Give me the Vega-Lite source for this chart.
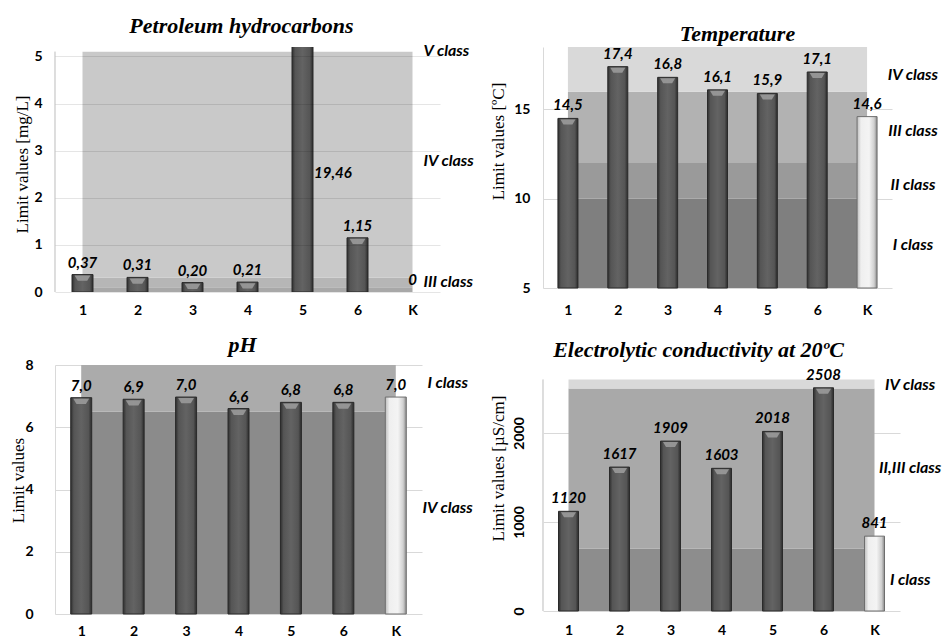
{
  "$schema": "https://vega.github.io/schema/vega-lite/v6.json",
  "padding": {"left": 9, "top": 14, "right": 0, "bottom": 0},
  "background": "white",
  "columns": 2,
  "spacing": {"row": 73, "column": 103},
  "bounds": "flush",
  "align": "each",
  "resolve": {"scale": {"color": "independent"}},
  "config": {
    "view": {"stroke": null},
    "axis": {"labelFont": "Lato", "labelFontWeight": "bold", "labelFontSize": 14, "labelColor": "#000", "titleFont": "Liberation Serif", "titleFontWeight": "normal", "titleFontSize": 17, "titleColor": "#000", "gridColor": "#d9d9d9", "domainColor": "#d9d9d9", "ticks": false, "tickSize": 0},
    "title": {"font": "Liberation Serif", "fontSize": 22, "fontWeight": "bold", "fontStyle": "italic", "color": "#000", "anchor": "middle", "baseline": "alphabetic"}
  },
  "datasets": {
    "p1": [
      {"site": "1", "pos": 1, "value": 0.37, "label": "0,37"},
      {"site": "2", "pos": 2, "value": 0.31, "label": "0,31"},
      {"site": "3", "pos": 3, "value": 0.20, "label": "0,20"},
      {"site": "4", "pos": 4, "value": 0.21, "label": "0,21"},
      {"site": "5", "pos": 5, "value": 19.46, "label": "19,46"},
      {"site": "6", "pos": 6, "value": 1.15, "label": "1,15"},
      {"site": "K", "pos": 7, "value": 0, "label": "0"}
    ],
    "p1bands": [
      {"cls": "II", "lo": 0, "hi": 0.1},
      {"cls": "III", "lo": 0.1, "hi": 0.3},
      {"cls": "IV", "lo": 0.3, "hi": 5.1}
    ],
    "p1classes": [
      {"cls": "V class", "y": 5.12},
      {"cls": "IV class", "y": 2.78},
      {"cls": "III class", "y": 0.21}
    ],
    "p2": [
      {"site": "1", "pos": 1, "value": 14.5, "label": "14,5"},
      {"site": "2", "pos": 2, "value": 17.4, "label": "17,4"},
      {"site": "3", "pos": 3, "value": 16.8, "label": "16,8"},
      {"site": "4", "pos": 4, "value": 16.1, "label": "16,1"},
      {"site": "5", "pos": 5, "value": 15.9, "label": "15,9"},
      {"site": "6", "pos": 6, "value": 17.1, "label": "17,1"},
      {"site": "K", "pos": 7, "value": 14.6, "label": "14,6"}
    ],
    "p2bands": [
      {"cls": "I", "lo": 5, "hi": 10},
      {"cls": "II", "lo": 10, "hi": 12},
      {"cls": "III", "lo": 12, "hi": 16},
      {"cls": "IV", "lo": 16, "hi": 18.5}
    ],
    "p2classes": [
      {"cls": "IV class", "y": 16.93},
      {"cls": "III class", "y": 13.8},
      {"cls": "II class", "y": 10.77},
      {"cls": "I class", "y": 7.41}
    ],
    "p3": [
      {"site": "1", "pos": 1, "value": 6.95, "label": "7,0"},
      {"site": "2", "pos": 2, "value": 6.9, "label": "6,9"},
      {"site": "3", "pos": 3, "value": 6.97, "label": "7,0"},
      {"site": "4", "pos": 4, "value": 6.6, "label": "6,6"},
      {"site": "5", "pos": 5, "value": 6.8, "label": "6,8"},
      {"site": "6", "pos": 6, "value": 6.8, "label": "6,8"},
      {"site": "K", "pos": 7, "value": 6.97, "label": "7,0"}
    ],
    "p3bands": [
      {"cls": "IV", "lo": 0, "hi": 6.5},
      {"cls": "I", "lo": 6.5, "hi": 8}
    ],
    "p3classes": [
      {"cls": "I class", "y": 7.43},
      {"cls": "IV class", "y": 3.41}
    ],
    "p4": [
      {"site": "1", "pos": 1, "value": 1120, "label": "1120"},
      {"site": "2", "pos": 2, "value": 1617, "label": "1617"},
      {"site": "3", "pos": 3, "value": 1909, "label": "1909"},
      {"site": "4", "pos": 4, "value": 1603, "label": "1603"},
      {"site": "5", "pos": 5, "value": 2018, "label": "2018"},
      {"site": "6", "pos": 6, "value": 2508, "label": "2508"},
      {"site": "K", "pos": 7, "value": 841, "label": "841"}
    ],
    "p4bands": [
      {"cls": "I", "lo": 0, "hi": 700},
      {"cls": "II,III", "lo": 700, "hi": 2500},
      {"cls": "IV", "lo": 2500, "hi": 2600}
    ],
    "p4classes": [
      {"cls": "IV class", "y": 2539},
      {"cls": "II,III class", "y": 1607},
      {"cls": "I class", "y": 348}
    ]
  },
  "concat": [
    {
      "width": 385, "height": 245,
      "title": {"text": "Petroleum hydrocarbons", "dx": -6, "offset": 5},
      "layer": [
        {
          "data": {"name": "p1bands"},
          "mark": {"type": "rect"},
          "encoding": {
            "x": {"datum": 1, "type": "quantitative", "scale": {"domain": [0.5, 7.5], "nice": false, "zero": false, "padding": 0},
                  "axis": {"values": [1, 2, 3, 4, 5, 6, 7], "format": "d", "labelExpr": "datum.value == 7 ? 'K' : datum.label", "title": null, "grid": false, "domain": false, "labelPadding": 11}},
            "x2": {"datum": 7},
            "y": {"field": "lo", "type": "quantitative", "scale": {"domain": [0, 5.2], "nice": false, "padding": 0},
                  "axis": {"title": "Limit values [mg/L]", "values": [0, 1, 2, 3, 4, 5], "format": "d", "grid": true, "domain": false, "zindex": 1, "gridColor": "#000", "gridOpacity": 0.1, "labelPadding": 13, "titleX": -33, "titleY": 117, "titleBaseline": "middle", "titleAngle": 270}},
            "y2": {"field": "hi"},
            "color": {"field": "cls", "type": "nominal", "scale": {"domain": ["II", "III", "IV"], "range": ["#a8a8a8", "#b6b6b6", "#c9c9c9"]}, "legend": null}
          }
        },
        {
          "data": {"name": "p1bands"},
          "mark": {"type": "rule", "color": "#d9d9d9"},
          "encoding": {"x": {"datum": 0.5, "type": "quantitative"}, "y": {"datum": 0, "type": "quantitative"}, "y2": {"datum": 5.1}}
        },
        {
          "data": {"name": "p1"},
          "transform": [{"filter": "datum.site != 'K'"}],
          "mark": {"type": "bar", "size": 21, "clip": true, "stroke": "#2a2a2a", "strokeWidth": 1,
                   "fill": {"gradient": "linear", "x1": 0, "x2": 1, "y1": 0, "y2": 0, "stops": [{"offset": 0, "color": "#2f2f2f"}, {"offset": 0.15, "color": "#555555"}, {"offset": 0.5, "color": "#636363"}, {"offset": 0.85, "color": "#555555"}, {"offset": 1, "color": "#2a2a2a"}]}},
          "encoding": {"x": {"field": "pos", "type": "quantitative"}, "y": {"field": "value", "type": "quantitative"}}
        },
        {
          "data": {"name": "p1"},
          "transform": [{"filter": "datum.value <= 5.2 && datum.value > 0"}],
          "mark": {"type": "point", "shape": "M-0.75,0.1L0.75,0.1L0.45,0.6L-0.45,0.6Z", "filled": true, "fill": "#9a9a9a", "opacity": 0.9, "size": 441, "strokeWidth": 0},
          "encoding": {"x": {"field": "pos", "type": "quantitative"}, "y": {"field": "value", "type": "quantitative"}}
        },
        {
          "data": {"name": "p1"},
          "transform": [{"filter": "datum.value <= 5.2"}],
          "mark": {"type": "text", "font": "Lato", "fontWeight": "bold", "fontStyle": "italic", "fontSize": 15, "dy": -7, "baseline": "alphabetic", "color": "#000"},
          "encoding": {"x": {"field": "pos", "type": "quantitative"}, "y": {"field": "value", "type": "quantitative"}, "text": {"field": "label"}}
        },
        {
          "data": {"name": "p1"},
          "transform": [{"filter": "datum.site == '5'"}],
          "mark": {"type": "text", "font": "Lato", "fontWeight": "bold", "fontStyle": "italic", "fontSize": 15, "align": "left", "baseline": "middle", "color": "#000"},
          "encoding": {"x": {"datum": 5.21, "type": "quantitative"}, "y": {"datum": 2.53, "type": "quantitative"}, "text": {"field": "label"}}
        },
        {
          "data": {"name": "p1classes"},
          "mark": {"type": "text", "font": "Lato", "fontWeight": "bold", "fontStyle": "italic", "fontSize": 16, "align": "left", "baseline": "middle", "clip": false, "color": "#000"},
          "encoding": {"x": {"datum": 7.2, "type": "quantitative"}, "y": {"field": "y", "type": "quantitative"}, "text": {"field": "cls"}}
        }
      ]
    },
    {
      "width": 349, "height": 241,
      "title": {"text": "Temperature", "dx": 20, "offset": 1},
      "layer": [
        {
          "data": {"name": "p2bands"},
          "mark": {"type": "rect"},
          "encoding": {
            "x": {"datum": 1, "type": "quantitative", "scale": {"domain": [0.5, 7.5], "nice": false, "zero": false, "padding": 0},
                  "axis": {"values": [1, 2, 3, 4, 5, 6, 7], "format": "d", "labelExpr": "datum.value == 7 ? 'K' : datum.label", "title": null, "grid": false, "domain": false, "labelPadding": 15}},
            "x2": {"datum": 7},
            "y": {"field": "lo", "type": "quantitative", "scale": {"domain": [5, 18.5], "nice": false, "zero": false, "padding": 0},
                  "axis": {"title": "Limit values [ºC]", "values": [5, 10, 15], "format": "d", "grid": true, "domain": true, "labelPadding": 13, "titleX": -45, "titleY": 94, "titleBaseline": "middle", "titleAngle": 270}},
            "y2": {"field": "hi"},
            "color": {"field": "cls", "type": "nominal", "scale": {"domain": ["I", "II", "III", "IV"], "range": ["#7f7f7f", "#9a9a9a", "#b2b2b2", "#d9d9d9"]}, "legend": null}
          }
        },
        {
          "data": {"name": "p2"},
          "transform": [{"filter": "datum.site != 'K'"}],
          "mark": {"type": "bar", "size": 20, "stroke": "#2a2a2a", "strokeWidth": 1,
                   "fill": {"gradient": "linear", "x1": 0, "x2": 1, "y1": 0, "y2": 0, "stops": [{"offset": 0, "color": "#2f2f2f"}, {"offset": 0.15, "color": "#555555"}, {"offset": 0.5, "color": "#636363"}, {"offset": 0.85, "color": "#555555"}, {"offset": 1, "color": "#2a2a2a"}]}},
          "encoding": {"x": {"field": "pos", "type": "quantitative"}, "y": {"field": "value", "type": "quantitative"}, "y2": {"datum": 5}}
        },
        {
          "data": {"name": "p2"},
          "transform": [{"filter": "datum.site == 'K'"}],
          "mark": {"type": "bar", "size": 20, "stroke": "#6e6e6e", "strokeWidth": 1,
                   "fill": {"gradient": "linear", "x1": 0, "x2": 1, "y1": 0, "y2": 0, "stops": [{"offset": 0, "color": "#bdbdbd"}, {"offset": 0.2, "color": "#efefef"}, {"offset": 0.6, "color": "#f4f4f4"}, {"offset": 0.85, "color": "#d0d0d0"}, {"offset": 1, "color": "#8a8a8a"}]}},
          "encoding": {"x": {"field": "pos", "type": "quantitative"}, "y": {"field": "value", "type": "quantitative"}, "y2": {"datum": 5}}
        },
        {
          "data": {"name": "p2"},
          "transform": [{"filter": "datum.site != 'K'"}],
          "mark": {"type": "point", "shape": "M-0.75,0.1L0.75,0.1L0.45,0.6L-0.45,0.6Z", "filled": true, "fill": "#9a9a9a", "opacity": 0.9, "size": 400, "strokeWidth": 0},
          "encoding": {"x": {"field": "pos", "type": "quantitative"}, "y": {"field": "value", "type": "quantitative"}}
        },
        {
          "data": {"name": "p2"},
          "mark": {"type": "text", "font": "Lato", "fontWeight": "bold", "fontStyle": "italic", "fontSize": 15, "dy": -8, "baseline": "alphabetic", "color": "#000"},
          "encoding": {"x": {"field": "pos", "type": "quantitative"}, "y": {"field": "value", "type": "quantitative"}, "text": {"field": "label"}}
        },
        {
          "data": {"name": "p2classes"},
          "mark": {"type": "text", "font": "Lato", "fontWeight": "bold", "fontStyle": "italic", "fontSize": 16, "align": "center", "baseline": "middle", "clip": false, "color": "#000"},
          "encoding": {"x": {"datum": 7.92, "type": "quantitative"}, "y": {"field": "y", "type": "quantitative"}, "text": {"field": "cls"}}
        }
      ]
    },
    {
      "width": 367, "height": 249,
      "title": {"text": "pH", "dx": 4, "offset": 1},
      "layer": [
        {
          "data": {"name": "p3bands"},
          "mark": {"type": "rect"},
          "encoding": {
            "x": {"datum": 1, "type": "quantitative", "scale": {"domain": [0.5, 7.5], "nice": false, "zero": false, "padding": 0},
                  "axis": {"values": [1, 2, 3, 4, 5, 6, 7], "format": "d", "labelExpr": "datum.value == 7 ? 'K' : datum.label", "title": null, "grid": false, "domain": false, "labelPadding": 10}},
            "x2": {"datum": 7},
            "y": {"field": "lo", "type": "quantitative", "scale": {"domain": [0, 8], "nice": false, "padding": 0},
                  "axis": {"title": "Limit values", "values": [0, 2, 4, 6, 8], "format": "d", "grid": true, "domain": true, "labelPadding": 22, "titleX": -37, "titleY": 115, "titleBaseline": "middle", "titleAngle": 270}},
            "y2": {"field": "hi"},
            "color": {"field": "cls", "type": "nominal", "scale": {"domain": ["IV", "I"], "range": ["#8b8b8b", "#ababab"]}, "legend": null}
          }
        },
        {
          "data": {"name": "p3"},
          "transform": [{"filter": "datum.site != 'K'"}],
          "mark": {"type": "bar", "size": 21, "stroke": "#2a2a2a", "strokeWidth": 1,
                   "fill": {"gradient": "linear", "x1": 0, "x2": 1, "y1": 0, "y2": 0, "stops": [{"offset": 0, "color": "#2f2f2f"}, {"offset": 0.15, "color": "#555555"}, {"offset": 0.5, "color": "#636363"}, {"offset": 0.85, "color": "#555555"}, {"offset": 1, "color": "#2a2a2a"}]}},
          "encoding": {"x": {"field": "pos", "type": "quantitative"}, "y": {"field": "value", "type": "quantitative"}}
        },
        {
          "data": {"name": "p3"},
          "transform": [{"filter": "datum.site == 'K'"}],
          "mark": {"type": "bar", "size": 21, "stroke": "#6e6e6e", "strokeWidth": 1,
                   "fill": {"gradient": "linear", "x1": 0, "x2": 1, "y1": 0, "y2": 0, "stops": [{"offset": 0, "color": "#bdbdbd"}, {"offset": 0.2, "color": "#efefef"}, {"offset": 0.6, "color": "#f4f4f4"}, {"offset": 0.85, "color": "#d0d0d0"}, {"offset": 1, "color": "#8a8a8a"}]}},
          "encoding": {"x": {"field": "pos", "type": "quantitative"}, "y": {"field": "value", "type": "quantitative"}}
        },
        {
          "data": {"name": "p3"},
          "transform": [{"filter": "datum.site != 'K'"}],
          "mark": {"type": "point", "shape": "M-0.75,0.1L0.75,0.1L0.45,0.6L-0.45,0.6Z", "filled": true, "fill": "#9a9a9a", "opacity": 0.9, "size": 441, "strokeWidth": 0},
          "encoding": {"x": {"field": "pos", "type": "quantitative"}, "y": {"field": "value", "type": "quantitative"}}
        },
        {
          "data": {"name": "p3"},
          "mark": {"type": "text", "font": "Lato", "fontWeight": "bold", "fontStyle": "italic", "fontSize": 15, "dy": -7, "baseline": "alphabetic", "color": "#000"},
          "encoding": {"x": {"field": "pos", "type": "quantitative"}, "y": {"field": "value", "type": "quantitative"}, "text": {"field": "label"}}
        },
        {
          "data": {"name": "p3classes"},
          "mark": {"type": "text", "font": "Lato", "fontWeight": "bold", "fontStyle": "italic", "fontSize": 16, "align": "center", "baseline": "middle", "clip": false, "color": "#000"},
          "encoding": {"x": {"datum": 7.99, "type": "quantitative"}, "y": {"field": "y", "type": "quantitative"}, "text": {"field": "cls"}}
        }
      ]
    },
    {
      "width": 357, "height": 246,
      "title": {"text": "Electrolytic conductivity at 20ºC", "dx": -23, "offset": 3},
      "layer": [
        {
          "data": {"name": "p4bands"},
          "mark": {"type": "rect"},
          "encoding": {
            "x": {"datum": 1, "type": "quantitative", "scale": {"domain": [0.5, 7.5], "nice": false, "zero": false, "padding": 0},
                  "axis": {"values": [1, 2, 3, 4, 5, 6, 7], "format": "d", "labelExpr": "datum.value == 7 ? 'K' : datum.label", "title": null, "grid": false, "domain": false, "labelPadding": 12}},
            "x2": {"datum": 7},
            "y": {"field": "lo", "type": "quantitative", "scale": {"domain": [0, 2764], "nice": false, "padding": 0},
                  "axis": {"title": "Limit values [µS/cm]", "values": [0, 1000, 2000], "format": "d", "grid": true, "domain": false, "labelAngle": 270, "labelAlign": "center", "labelBaseline": "bottom", "labelPadding": 17, "titleX": -45, "titleY": 103, "titleBaseline": "middle", "titleAngle": 270}},
            "y2": {"field": "hi"},
            "color": {"field": "cls", "type": "nominal", "scale": {"domain": ["I", "II,III", "IV"], "range": ["#8d8d8d", "#a9a9a9", "#d9d9d9"]}, "legend": null}
          }
        },
        {
          "data": {"name": "p4bands"},
          "mark": {"type": "rule", "color": "#d9d9d9"},
          "encoding": {"x": {"datum": 0.5, "type": "quantitative"}, "y": {"datum": 0, "type": "quantitative"}, "y2": {"datum": 2600}}
        },
        {
          "data": {"name": "p4"},
          "transform": [{"filter": "datum.site != 'K'"}],
          "mark": {"type": "bar", "size": 20, "stroke": "#2a2a2a", "strokeWidth": 1,
                   "fill": {"gradient": "linear", "x1": 0, "x2": 1, "y1": 0, "y2": 0, "stops": [{"offset": 0, "color": "#2f2f2f"}, {"offset": 0.15, "color": "#555555"}, {"offset": 0.5, "color": "#636363"}, {"offset": 0.85, "color": "#555555"}, {"offset": 1, "color": "#2a2a2a"}]}},
          "encoding": {"x": {"field": "pos", "type": "quantitative"}, "y": {"field": "value", "type": "quantitative"}}
        },
        {
          "data": {"name": "p4"},
          "transform": [{"filter": "datum.site == 'K'"}],
          "mark": {"type": "bar", "size": 20, "stroke": "#6e6e6e", "strokeWidth": 1,
                   "fill": {"gradient": "linear", "x1": 0, "x2": 1, "y1": 0, "y2": 0, "stops": [{"offset": 0, "color": "#bdbdbd"}, {"offset": 0.2, "color": "#efefef"}, {"offset": 0.6, "color": "#f4f4f4"}, {"offset": 0.85, "color": "#d0d0d0"}, {"offset": 1, "color": "#8a8a8a"}]}},
          "encoding": {"x": {"field": "pos", "type": "quantitative"}, "y": {"field": "value", "type": "quantitative"}}
        },
        {
          "data": {"name": "p4"},
          "transform": [{"filter": "datum.site != 'K'"}],
          "mark": {"type": "point", "shape": "M-0.75,0.1L0.75,0.1L0.45,0.6L-0.45,0.6Z", "filled": true, "fill": "#9a9a9a", "opacity": 0.9, "size": 400, "strokeWidth": 0},
          "encoding": {"x": {"field": "pos", "type": "quantitative"}, "y": {"field": "value", "type": "quantitative"}}
        },
        {
          "data": {"name": "p4"},
          "mark": {"type": "text", "font": "Lato", "fontWeight": "bold", "fontStyle": "italic", "fontSize": 15, "dy": -8, "baseline": "alphabetic", "color": "#000"},
          "encoding": {"x": {"field": "pos", "type": "quantitative"}, "y": {"field": "value", "type": "quantitative"}, "text": {"field": "label"}}
        },
        {
          "data": {"name": "p4classes"},
          "mark": {"type": "text", "font": "Lato", "fontWeight": "bold", "fontStyle": "italic", "fontSize": 16, "align": "center", "baseline": "middle", "clip": false, "color": "#000"},
          "encoding": {"x": {"datum": 7.7, "type": "quantitative"}, "y": {"field": "y", "type": "quantitative"}, "text": {"field": "cls"}}
        }
      ]
    }
  ]
}
